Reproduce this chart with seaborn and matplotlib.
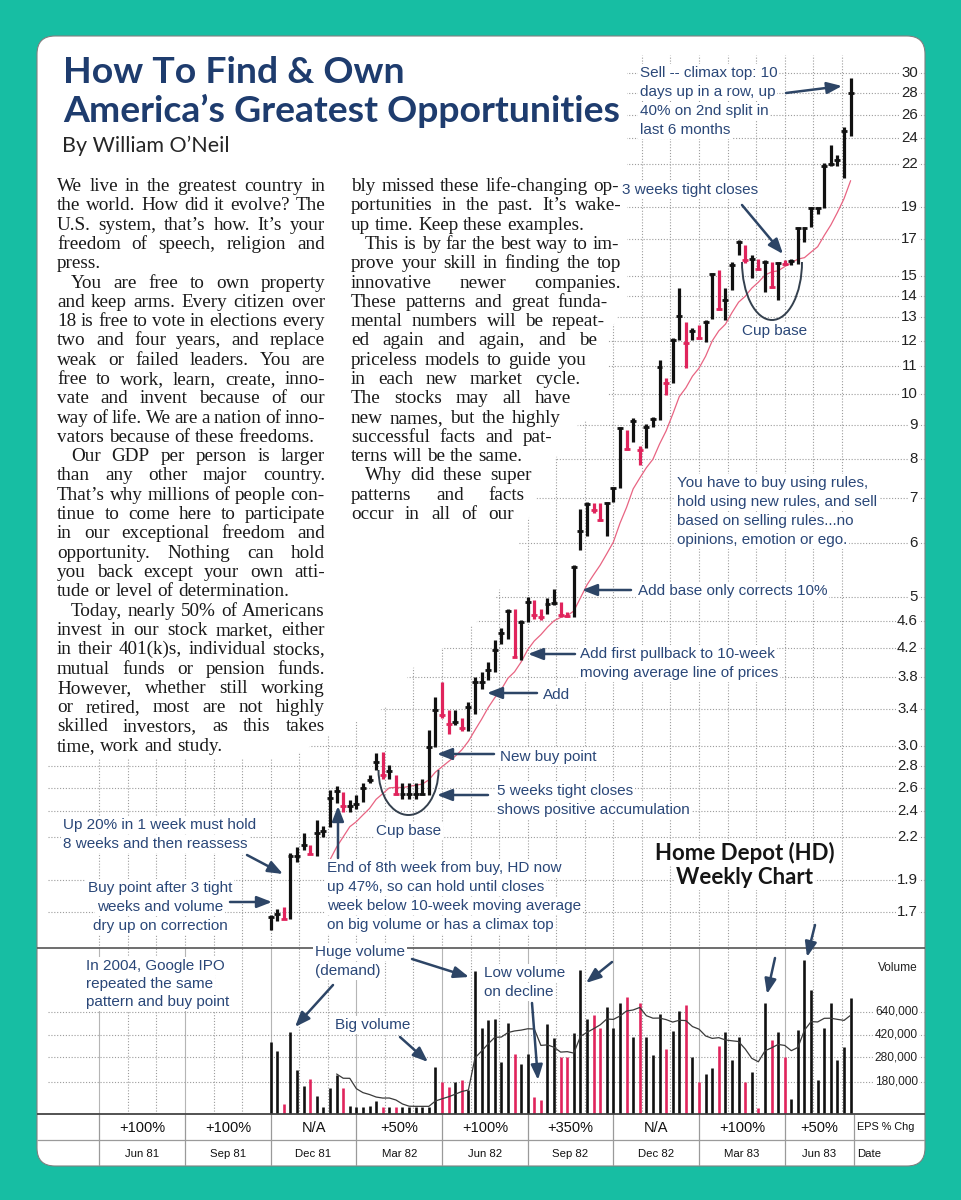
import numpy as np
import pandas as pd
import matplotlib
matplotlib.use("Agg")
import matplotlib.pyplot as plt
import seaborn as sns
from matplotlib.patches import FancyBboxPatch, Polygon, Arc

# weekly bars for Home Depot, Dec 81 - Jul 83
high = [1.68, 1.72, 1.73, 2.08, 2.12, 2.23, 2.14, 2.33, 2.28, 2.58,
        2.62, 2.56, 2.49, 2.54, 2.64, 2.72, 2.93, 2.94, 2.81, 2.72,
        2.64, 2.64, 2.64, 2.68, 3.17, 3.55, 3.74, 3.39, 3.39, 3.30,
        3.49, 3.80, 3.87, 4.00, 4.31, 4.49, 4.80, 4.80, 4.62, 4.99,
        4.94, 4.80, 4.98, 5.14, 4.91, 4.75, 5.57, 6.76, 6.92, 6.88,
        6.88, 6.92, 7.28, 8.94, 8.84, 9.20, 8.36, 9.03, 9.25, 11.23,
        10.55, 12.10, 14.36, 12.81, 12.52, 12.66, 12.88, 15.12, 15.29, 14.40,
        15.73, 16.94, 16.65, 16.09, 15.86, 15.82, 15.73, 15.73, 15.82, 15.88,
        17.73, 17.73, 18.98, 18.98, 22.02, 23.44, 22.65, 24.96, 29.45]
low = [1.60, 1.65, 1.66, 1.66, 2.02, 2.10, 2.07, 2.06, 2.20, 2.27,
       2.47, 2.39, 2.39, 2.42, 2.48, 2.64, 2.76, 2.68, 2.68, 2.54,
       2.50, 2.50, 2.50, 2.54, 2.54, 2.99, 3.30, 3.13, 3.22, 3.16,
       3.16, 3.35, 3.65, 3.76, 3.87, 4.26, 4.33, 4.07, 4.03, 4.59,
       4.64, 4.62, 4.72, 4.86, 4.67, 4.67, 4.67, 5.86, 6.16, 6.65,
       6.48, 6.16, 6.92, 7.24, 8.26, 8.50, 7.84, 8.31, 8.94, 9.14,
       9.97, 10.40, 12.02, 10.92, 12.02, 12.08, 11.94, 12.93, 13.33, 12.88,
       14.30, 16.10, 15.64, 14.86, 15.29, 14.19, 14.36, 13.81, 15.55, 15.56,
       15.60, 16.85, 17.73, 18.50, 18.90, 21.80, 21.86, 20.92, 24.20]
close = [1.67, 1.69, 1.66, 2.06, 2.06, 2.14, 2.07, 2.23, 2.24, 2.51,
         2.57, 2.44, 2.44, 2.46, 2.60, 2.67, 2.84, 2.72, 2.75, 2.55,
         2.55, 2.55, 2.55, 2.55, 2.99, 3.39, 3.34, 3.24, 3.26, 3.19,
         3.43, 3.74, 3.74, 3.89, 4.17, 4.41, 4.76, 4.07, 4.59, 4.91,
         4.70, 4.67, 4.88, 4.89, 4.70, 4.68, 5.53, 6.25, 6.87, 6.73,
         6.51, 6.88, 7.24, 8.90, 8.28, 9.11, 8.26, 8.94, 9.17, 10.98,
         10.40, 12.05, 13.06, 11.92, 12.43, 12.10, 12.80, 15.06, 13.38, 13.80,
         15.56, 16.85, 15.82, 15.89, 15.36, 15.73, 14.44, 15.64, 15.60, 15.76,
         17.63, 17.63, 18.90, 18.90, 21.86, 22.00, 22.30, 24.60, 27.99]
# weekly volume, thousands of shares
volume = [371, 313, 119, 440, 222, 166, 190, 139, 113, 160,
          203, 160, 116, 113, 113, 116, 127, 114, 114, 113,
          113, 113, 113, 113, 113, 233, 178, 164, 178, 185,
          155, 1330, 478, 549, 559, 258, 517, 295, 247, 297,
          137, 130, 511, 399, 279, 283, 437, 1360, 556, 598,
          478, 691, 472, 752, 838, 406, 743, 406, 293, 609,
          323, 450, 647, 721, 279, 180, 206, 229, 345, 445,
          266, 401, 179, 213, 112, 743, 382, 442, 281, 131,
          458, 1630, 940, 185, 472, 752, 266, 339, 813]

price_ticks = [30, 28, 26, 24, 22, 19, 17, 15, 14, 13, 12, 11, 10, 9, 8, 7, 6,
               5, 4.6, 4.2, 3.8, 3.4, 3.0, 2.8, 2.6, 2.4, 2.2, 1.9, 1.7]
price_labels = ["30", "28", "26", "24", "22", "19", "17", "15", "14", "13", "12",
                "11", "10", "9", "8", "7", "6", "5", "4.6", "4.2", "3.8", "3.4",
                "3.0", "2.8", "2.6", "2.4", "2.2", "1.9", "1.7"]
vol_ticks = [640000, 420000, 280000, 180000]
vol_labels = ["640,000", "420,000", "280,000", "180,000"]
quarters = ["Jun 81", "Sep 81", "Dec 81", "Mar 82", "Jun 82", "Sep 82",
            "Dec 82", "Mar 83", "Jun 83"]
eps_chg = ["+100%", "+100%", "N/A", "+50%", "+100%", "+350%", "N/A", "+100%", "+50%"]
quarter_start = [-26, -13, 0, 13, 26, 39, 52, 65, 78, 88.5]   # week index of column edges

df = pd.DataFrame({"high": high, "low": low, "close": close,
                   "volume": np.array(volume) * 1000.0})
df["week"] = np.arange(len(df))
df["down"] = df.close < df.close.shift(1)
df["ma_price"] = df.close.rolling(10).mean()
df["ma_vol"] = df.volume.rolling(10).mean()

TEAL = "#17bea3"
BLACK = "#111111"
RED = "#e0245c"
NAVY = "#1e3c6e"
BLUE = "#2a4778"
ARROW = "#2d4566"
GRID = "#9c9c9c"

sns.set_style("white")
SANS = ["Liberation Sans Narrow", "Liberation Sans", "DejaVu Sans"]
plt.rcParams["font.family"] = SANS

W, H = 962, 1200
fig = plt.figure(figsize=(W / 100, H / 100), dpi=100)
fig.patch.set_facecolor(TEAL)


def frac(x0, y0, x1, y1):
    return [x0 / W, 1 - y1 / H, (x1 - x0) / W, (y1 - y0) / H]


# pixel <-> chart scale of the original
def wk(px):
    return (px - 270.7) / 6.59


def px2price(y):
    return 10 ** (np.log10(30) - (y - 73) / 673.0)


def px2vol(y):
    return 10 ** (5 + (1114 - y) * 0.00787)


bg = fig.add_axes([0, 0, 1, 1], zorder=0)
bg.set_xlim(0, W)
bg.set_ylim(H, 0)
bg.set_axis_off()
bg.add_patch(FancyBboxPatch((37, 36), 888, 1130, boxstyle="round,pad=0,rounding_size=18",
                            fc="white", ec="#808080", lw=0.8))

ax = fig.add_axes(frac(37, 55, 925, 948), zorder=1)
axv = fig.add_axes(frac(37, 948, 925, 1114), zorder=1)
axt = fig.add_axes(frac(37, 1114, 925, 1166), zorder=1)
for a in (ax, axv, axt):
    a.set_facecolor("none")
    a.set_xlim(wk(37), wk(925))

colors = np.where(df.down, RED, BLACK)
months = np.arange(-26, 89, 13 / 3)
dots = (0, (1, 1.6))

# ---- price panel
ax.set_yscale("log")
ax.set_ylim(px2price(948), px2price(55))
ax.vlines(months, px2price(948), px2price(55), colors=GRID, lw=0.8, linestyles=dots, zorder=0)
ax.hlines(price_ticks, wk(48), wk(925), colors=GRID, lw=0.8, linestyles=dots, zorder=0)
sns.lineplot(data=df.iloc[9:], x="week", y="ma_price", ax=ax, color="#e86482", lw=0.9, zorder=2)
ax.vlines(df.week, df.low, df.high, colors=colors, lw=2.3, zorder=3)
ax.hlines(df.close, df.week - 0.45, df.week + 0.45, colors=colors, lw=2.0, zorder=3)
for p, lab in zip(price_ticks, price_labels):
    ax.text(0.992, p, lab, transform=ax.get_yaxis_transform(), ha="right", va="center",
            fontsize=10.8, family=SANS, color="#222222",
            bbox=dict(fc="white", ec="none", pad=0.6))
ax.set_axis_off()

# ---- volume panel
axv.set_yscale("log")
axv.set_ylim(1e5, px2vol(948))
axv.vlines(quarter_start[:-1], 1e5, px2vol(948), colors="#b5b5b5", lw=0.8, zorder=0)
axv.vlines([m for m in months if abs(m / 13 - round(m / 13)) > 0.01], 1e5, px2vol(948),
           colors=GRID, lw=0.8, linestyles=dots, zorder=0)
axv.hlines(vol_ticks, wk(48), wk(925), colors=GRID, lw=0.8, linestyles=dots, zorder=0)
axv.vlines(df.week, 1e5, df.volume, colors=colors, lw=1.9, zorder=3)
sns.lineplot(data=df.iloc[10:], x="week", y="ma_vol", ax=axv, color="#3a3a3a", lw=0.9, zorder=4)
for v, lab in zip(vol_ticks, vol_labels):
    axv.text(0.992, v, lab, transform=axv.get_yaxis_transform(), ha="right", va="center",
             fontsize=8.6, family=SANS, color="#222222", bbox=dict(fc="white", ec="none", pad=0.5))
axv.text(0.992, px2vol(968), "Volume", transform=axv.get_yaxis_transform(), ha="right",
         va="center", fontsize=8.6, family=SANS, color="#222222")
axv.set_axis_off()

# ---- EPS / date table
axt.set_ylim(2, 0)
axt.vlines(quarter_start, 0, 2, colors="#9a9a9a", lw=0.9)
axt.hlines(1, wk(37), wk(925), colors="#9a9a9a", lw=0.9)
mids = [(a + b) / 2 for a, b in zip(quarter_start[:-1], quarter_start[1:])]
for m, e, q in zip(mids, eps_chg, quarters):
    axt.text(m, 0.52, e, ha="center", va="center", fontsize=10.5, family=SANS, color="#111111")
    axt.text(m, 1.52, q, ha="center", va="center", fontsize=8.2, family=SANS, color="#111111")
axt.text(wk(886), 0.5, "EPS % Chg", ha="center", va="center", fontsize=7.8, family=SANS, color="#111111")
axt.text(wk(857), 1.52, "Date", ha="left", va="center", fontsize=8.2, family=SANS, color="#111111")
axt.set_axis_off()

# ---- overlay in pixel coordinates for the article text and notes
lay = fig.add_axes([0, 0, 1, 1], zorder=5)
lay.set_xlim(0, W)
lay.set_ylim(H, 0)
lay.set_axis_off()
lay.hlines(948, 37, 925, colors="#555555", lw=1.2)
lay.hlines(1114, 37, 925, colors="#444444", lw=1.3)

# white area behind the article columns
mask = [(38, 58), (58, 38), (627, 38), (627, 300), (608, 335), (608, 410), (578, 425),
        (560, 450), (540, 490), (520, 540), (505, 580), (485, 615), (455, 640), (410, 670),
        (400, 700), (330, 735), (290, 758), (38, 758)]
lay.add_patch(Polygon(mask, closed=True, fc="white", ec="none", zorder=1))

renderer = fig.canvas.get_renderer()


def width(s, **kw):
    t = lay.text(0, 0, s, **kw)
    w = t.get_window_extent(renderer=renderer).width
    t.remove()
    return w


# title, sized so the second line spans the original width
TITLE = dict(family="Lato", weight="bold", color=NAVY, va="baseline", zorder=3)
tsize = 29 * 559 / width("America’s Greatest Opportunities", fontsize=29, **TITLE)
lay.text(63, 83, "How To Find & Own", fontsize=tsize, **TITLE)
lay.text(63, 122, "America’s Greatest Opportunities", fontsize=tsize, **TITLE)
lay.text(62, 152, "By William O’Neil", family="Lato", fontsize=15.5,
         color="#262626", va="baseline", zorder=3)

BODY = dict(family="Liberation Serif", color="#1a1a1a")
BODY_SIZE = 13.8
MIN_GAP = 2.6


def put_line(x0, x1, y, line, justify, indent):
    words = line.split()
    size = BODY_SIZE
    ws = [width(w, fontsize=size, **BODY) for w in words]
    space = width("a a", fontsize=size, **BODY) - width("aa", fontsize=size, **BODY)
    x = x0 + indent
    right = x1 if x1 is not None else 627
    need = sum(ws) + (len(words) - 1) * MIN_GAP
    if need > right - x:
        f = (right - x - (len(words) - 1) * MIN_GAP) / sum(ws)
        size *= f
        ws = [w * f for w in ws]
        space = MIN_GAP
    gap = space
    if justify and x1 is not None and len(words) > 1:
        gap = max((x1 - x - sum(ws)) / (len(words) - 1), MIN_GAP)
    for w, wd in zip(words, ws):
        lay.text(x, y, w, va="baseline", ha="left", zorder=3, fontsize=size, **BODY)
        x += wd + gap


col1 = [
    (False, ["We live in the greatest country in", "the world. How did it evolve? The",
             "U.S. system, that’s how. It’s your", "freedom of speech, religion and", "press."]),
    (True, ["You are free to own property", "and keep arms. Every citizen over",
            "18 is free to vote in elections every", "two and four years, and replace",
            "weak or failed leaders. You are", "free to work, learn, create, inno-",
            "vate and invent because of our", "way of life. We are a nation of inno-",
            "vators because of these freedoms."]),
    (True, ["Our GDP per person is larger", "than any other major country.",
            "That’s why millions of people con-", "tinue to come here to participate",
            "in our exceptional freedom and", "opportunity. Nothing can hold",
            "you back except your own atti-", "tude or level of determination."]),
    (True, ["Today, nearly 50% of Americans", "invest in our stock market, either",
            "in their 401(k)s, individual stocks,", "mutual funds or pension funds.",
            "However, whether still working", "or retired, most are not highly",
            "skilled investors, as this takes", "time, work and study."]),
]
col2 = [
    (False, ["bly missed these life-changing op-", "portunities in the past. It’s wake-",
             "up time. Keep these examples."]),
    (True, ["This is by far the best way to im-", "prove your skill in finding the top",
            "innovative newer companies.", "These patterns and great funda-",
            "mental numbers will be repeat-", "ed again and again, and be",
            "priceless models to guide you", "in each new market cycle.",
            "The stocks may all have", "new names, but the highly",
            "successful facts and pat-", "terns will be the same."]),
    (True, ["Why did these super", "patterns and facts", "occur in all of our"]),
]
col2_right = [619, 622, None, 619, 621, 621, 608, 605, 597, 587, 580, 571, 561, 552,
              None, 532, 525, 514]

k = 0
for indent, para in col1:
    for j, line in enumerate(para):
        last = j == len(para) - 1
        put_line(57, 325, 191 + 19.3 * k, line, not last, 14 if (indent and j == 0) else 0)
        k += 1
k = 0
for pi, (indent, para) in enumerate(col2):
    for j, line in enumerate(para):
        last = j == len(para) - 1 and pi < len(col2) - 1
        put_line(351, col2_right[k], 191 + 19.3 * k, line, not last,
                 14 if (indent and j == 0) else 0)
        k += 1

NOTE = dict(family=SANS, fontsize=11, color=BLUE, zorder=3)


def note(x, y, s, dy=19, ha="left"):
    for j, line in enumerate(s.split("\n")):
        lay.text(x, y + j * dy, line, ha=ha, va="center",
                 bbox=dict(fc="white", ec="none", pad=1.2), **NOTE)


def arrow(x0, y0, x1, y1):
    lay.annotate("", xy=(x1, y1), xytext=(x0, y0), zorder=4,
                 arrowprops=dict(arrowstyle="-|>,head_length=0.9,head_width=0.35",
                                 color=ARROW, lw=1.8, shrinkA=0, shrinkB=0))


note(640, 73, "Sell -- climax top: 10\ndays up in a row, up\n40% on 2nd split in\nlast 6 months")
arrow(786, 93, 842, 86)
note(622, 190, "3 weeks tight closes")
arrow(742, 205, 783, 254)
note(742, 331, "Cup base")
lay.add_patch(Arc((772, 262), 60, 116, theta1=0, theta2=180, color="#34404e", lw=1.4, zorder=4))
note(677, 483, "You have to buy using rules,\nhold using new rules, and sell\nbased on selling rules...no\nopinions, emotion or ego.")
note(638, 591, "Add base only corrects 10%")
arrow(631, 590, 582, 590)
note(580, 654, "Add first pullback to 10-week\nmoving average line of prices")
arrow(575, 654, 528, 654)
note(543, 695, "Add")
arrow(537, 693, 487, 693)
note(500, 757, "New buy point")
arrow(494, 754, 437, 754)
note(497, 791, "5 weeks tight closes\nshows positive accumulation")
arrow(488, 795, 437, 795)
note(376, 831, "Cup base")
lay.add_patch(Arc((408.5, 770), 60, 90, theta1=0, theta2=180, color="#34404e", lw=1.4, zorder=4))
note(327, 868, "End of 8th week from buy, HD now\nup 47%, so can hold until closes\nweek below 10-week moving average\non big volume or has a climax top")
arrow(338, 858, 338, 806)
note(63, 825, "Up 20% in 1 week must hold\n8 weeks and then reassess")
arrow(247, 855, 283, 874)
note(160, 888, "Buy point after 3 tight\nweeks and volume\ndry up on correction", ha="center")
arrow(230, 902, 272, 902)
for j, line in enumerate(["Home Depot (HD)", "Weekly Chart"]):
    lay.text(745, 853 + 25 * j, line, ha="center", va="center", family="Lato", weight="bold",
             fontsize=16, color="#151515", zorder=3, bbox=dict(fc="white", ec="none", pad=1))

note(86, 966, "In 2004, Google IPO\nrepeated the same\npattern and buy point", dy=18)
note(315, 952, "Huge volume\n(demand)")
arrow(333, 985, 295, 1027)
arrow(412, 959, 469, 977)
note(484, 973, "Low volume\non decline")
arrow(532, 1003, 538, 1080)
note(335, 1025, "Big volume")
arrow(400, 1037, 428, 1062)
arrow(612, 962, 586, 983)
arrow(775, 958, 767, 994)
arrow(815, 925, 807, 957)

fig.savefig("out.png", dpi=100, facecolor=fig.get_facecolor())
